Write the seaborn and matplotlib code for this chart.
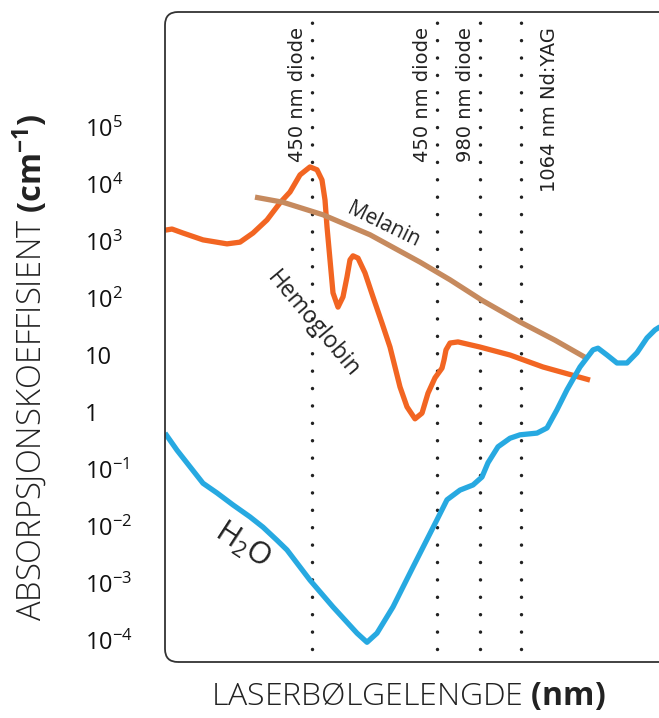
import numpy as np
import pandas as pd
import seaborn as sns
import matplotlib.pyplot as plt
from matplotlib.patches import FancyBboxPatch

# x: schematic wavelength position (axis has no scale), y: log10 absorption coefficient (cm^-1)
hb_x = [0, 7, 18, 38, 62, 75, 88, 102, 115, 125, 135, 145, 152, 157, 160, 162, 165, 168, 173, 178,
        182, 185, 188, 193, 200, 208, 217, 225, 235, 242, 250, 257, 263, 270, 277, 279, 281, 285,
        293, 315, 345, 378, 425]
hb_log = [3.19, 3.21, 3.14, 3.02, 2.95, 2.98, 3.14, 3.37, 3.67, 3.86, 4.16, 4.30, 4.25, 4.07, 3.72,
          3.25, 2.67, 2.09, 1.84, 2.02, 2.37, 2.67, 2.74, 2.70, 2.44, 2.02, 1.56, 1.14, 0.44, 0.09,
          -0.12, -0.02, 0.33, 0.60, 0.77, 0.91, 1.09, 1.21, 1.23, 1.14, 1.00, 0.79, 0.56]

mel_x = [90, 118, 158, 205, 255, 285, 317, 355, 390, 420]
mel_log = [3.77, 3.68, 3.46, 3.11, 2.63, 2.32, 1.96, 1.58, 1.26, 0.96]

h2o_x = [0, 12, 25, 38, 52, 68, 85, 98, 112, 122, 145, 168, 192, 202, 212, 228, 248, 272, 282, 295,
         308, 317, 323, 333, 345, 355, 372, 382, 392, 402, 415, 428, 433, 442, 452, 462, 472, 482,
         490, 500]
h2o_log = [-0.37, -0.67, -0.96, -1.25, -1.42, -1.63, -1.84, -2.02, -2.25, -2.42, -2.95, -3.42, -3.88,
           -4.04, -3.88, -3.42, -2.72, -1.89, -1.54, -1.37, -1.28, -1.14, -0.89, -0.61, -0.46, -0.40,
           -0.37, -0.28, 0.04, 0.39, 0.79, 1.09, 1.12, 1.00, 0.86, 0.86, 1.04, 1.30, 1.44, 1.55]

laser_x = [147, 272, 315, 356]
laser_labels = ['450 nm diode', '450 nm diode', '980 nm diode', '1064 nm Nd:YAG']

ytick_exp = list(range(-4, 6))
ytick_labels = ['1' if e == 0 else '10' if e == 1 else rf'$10^{{{e}}}$' for e in ytick_exp]

sns.set_style('white')
plt.rcParams['font.family'] = ['Open Sans', 'DejaVu Sans']
plt.rcParams['mathtext.fontset'] = 'custom'
plt.rcParams['mathtext.rm'] = 'Open Sans'
plt.rcParams['mathtext.bf'] = 'Open Sans:bold'
plt.rcParams['mathtext.it'] = 'Open Sans:italic'

fig = plt.figure(figsize=(6.59, 7.18), dpi=100)
ax = fig.add_axes([165 / 659, 56 / 718, 500 / 659, 650 / 718])

orange = '#f26522'
tan = '#c68a5e'
blue = '#27a9e1'

hb = pd.DataFrame({'x': hb_x, 'y': np.power(10.0, hb_log)})
mel = pd.DataFrame({'x': mel_x, 'y': np.power(10.0, mel_log)})
h2o = pd.DataFrame({'x': h2o_x, 'y': np.power(10.0, h2o_log)})

line_kw = dict(lw=3.8, solid_joinstyle='round', solid_capstyle='butt')
sns.lineplot(data=hb, x='x', y='y', ax=ax, color=orange, zorder=3, **line_kw)
sns.lineplot(data=mel, x='x', y='y', ax=ax, color=tan, zorder=4, **line_kw)
sns.lineplot(data=h2o, x='x', y='y', ax=ax, color=blue, zorder=5, **line_kw)

# laser wavelengths, dotted
for lx, lab in zip(laser_x, laser_labels):
    ax.axvline(lx, ymin=0.02, ymax=0.995, color='#222222', lw=2.5,
               ls=(0, (0.01, 5.0)), dash_capstyle='round', zorder=2)
    right = lab.startswith('1064')
    ax.annotate(lab, xy=(lx, 1), xycoords=('data', 'axes fraction'),
                xytext=(19 if right else -5, -15), textcoords='offset pixels',
                rotation=90, ha='left' if right else 'right', va='top',
                fontsize=14, family=['Liberation Sans Narrow', 'DejaVu Sans'], color='#222222')

ax.set_yscale('log')
ax.set_xlim(0, 500)
ax.set_ylim(10 ** -4.386, 10 ** 7.018)
ax.set_xticks([])
ax.set_yticks([10.0 ** e for e in ytick_exp], ytick_labels)
ax.minorticks_off()
ax.tick_params(axis='y', length=0, pad=57.6, labelsize=17, labelcolor='#111111')
for t in ax.get_yticklabels():
    t.set_horizontalalignment('left')
ax.set_xlabel('')
ax.set_ylabel('')
for s in ax.spines.values():
    s.set_visible(False)
ax.patch.set_alpha(0)

# rounded frame, right side runs off the figure
frame = FancyBboxPatch((1.65, 0.56), 5.5, 6.5, boxstyle='round,pad=0,rounding_size=0.13',
                       transform=fig.dpi_scale_trans, fill=False, lw=1.3, ec='#333333')
fig.add_artist(frame)

# curve labels
ax.text(218, 10 ** 3.28, 'Melanin', rotation=-26, rotation_mode='anchor',
        ha='center', va='center', fontsize=15, color='#222222')
ax.text(148, 10 ** 1.54, 'Hemoglobin', rotation=-50, rotation_mode='anchor',
        ha='center', va='center', fontsize=16.5, color='#222222')
ax.text(78, 10 ** -2.33, r'H$_\mathregular{2}$O', rotation=-33, rotation_mode='anchor',
        ha='center', va='center', fontsize=22, color='#222222')

fig.text(408 / 659, 1 - 697 / 718, r'LASERBØLGELENGDE $\mathbf{(nm)}$',
         ha='center', va='center', fontsize=23, fontweight='light', color='#222222')
fig.text(30 / 659, 1 - 367 / 718, r'ABSORPSJONSKOEFFISIENT $\mathbf{(cm^{-1})}$',
         rotation=90, ha='center', va='center', fontsize=23.5, fontweight='light', color='#222222')

fig.savefig('out.png', dpi=100)
